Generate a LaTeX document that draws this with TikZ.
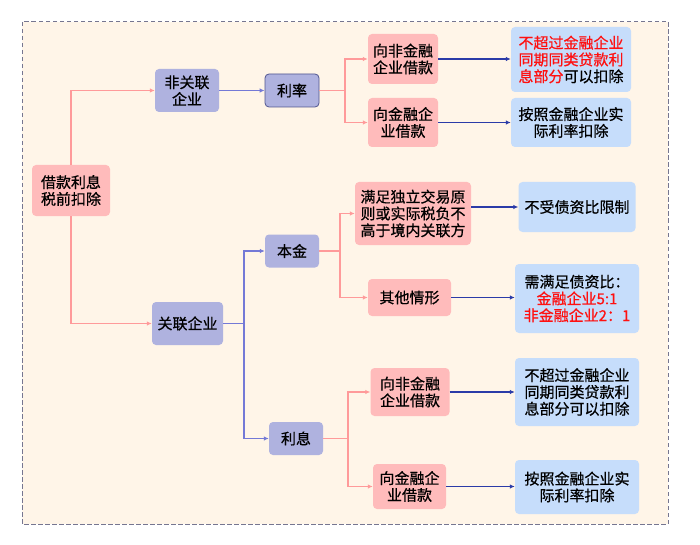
\documentclass[tikz,border=0pt]{standalone}
\usepackage{fontspec}
\setmainfont{Noto Sans CJK SC}[FakeBold=0.6]
\usetikzlibrary{arrows.meta,calc}
\definecolor{cream}{HTML}{FFF5E8}
\definecolor{pinkfill}{HTML}{FFBBBB}
\definecolor{purplefill}{HTML}{AFB2DF}
\definecolor{bluefill}{HTML}{C6DDFB}
\definecolor{pinkln}{HTML}{FF9A9A}
\definecolor{purpleln}{HTML}{7479D6}
\definecolor{navyln}{HTML}{2B3BA8}
\definecolor{framec}{HTML}{767690}
\definecolor{redtxt}{HTML}{FF1010}
\definecolor{darkborder}{HTML}{50558F}
\tikzset{
  box/.style={font=\fontsize{15}{16.8}\selectfont, align=center, inner sep=0pt, rounded corners=4pt},
  pinkbox/.style={box, fill=pinkfill},
  purplebox/.style={box, fill=purplefill},
  bluebox/.style={box, fill=bluefill},
  pinkline/.style={draw=pinkln, line width=1.2pt, -{Latex[length=5pt,width=4.5pt]}},
  pinkplain/.style={draw=pinkln, line width=1.2pt},
  purpleline/.style={draw=purpleln, line width=1.2pt, -{Latex[length=5pt,width=4.5pt]}},
  purpleplain/.style={draw=purpleln, line width=1.2pt},
  navyline/.style={draw=navyln, line width=1.2pt, -{Latex[length=5pt,width=4.5pt]}},
}
\begin{document}
\begin{tikzpicture}[x=1pt,y=-1pt]
\useasboundingbox (0,0) rectangle (700,545);
\fill[white] (0,0) rectangle (700,545);
\draw[framec, fill=cream, line width=1pt, dash pattern=on 4.5pt off 2.5pt] (22,22) rectangle (668,524);

% nodes
\node[pinkbox, minimum width=78pt, minimum height=51pt] (root) at (71,190.5) {借款利息\\税前扣除};
\node[purplebox, minimum width=64pt, minimum height=43pt] (nonrel) at (187,90.5) {非关联\\企业};
\node[purplebox, draw=darkborder, line width=0.8pt, minimum width=54pt, minimum height=33pt] (lilv) at (292,90.5) {利率};
\node[purplebox, minimum width=54pt, minimum height=33pt] (benjin) at (292,251) {本金};
\node[purplebox, minimum width=71pt, minimum height=43pt] (rel) at (187.5,323.5) {关联企业};
\node[purplebox, minimum width=54pt, minimum height=33pt] (lixi) at (296,438.5) {利息};

\node[pinkbox, minimum width=70pt, minimum height=50pt] (a1) at (403,59) {向非金融\\企业借款};
\node[pinkbox, minimum width=70pt, minimum height=49pt] (a2) at (403,122.5) {向金融企\\业借款};
\node[pinkbox, minimum width=116pt, minimum height=63pt] (b1) at (413,213.5) {满足独立交易原\\则或实际税负不\\高于境内关联方};
\node[pinkbox, minimum width=83pt, minimum height=37pt] (b2) at (409.5,297.5) {其他情形};
\node[pinkbox, minimum width=79pt, minimum height=48pt] (c1) at (410,392) {向非金融\\企业借款};
\node[pinkbox, minimum width=73pt, minimum height=45pt] (c2) at (409.5,486.5) {向金融企\\业借款};

\node[bluebox, minimum width=120pt, minimum height=65pt] (r1) at (571,59.5) {\textcolor{redtxt}{不超过金融企业}\\\textcolor{redtxt}{同期同类贷款利}\\\textcolor{redtxt}{息部分}可以扣除};
\node[bluebox, minimum width=120pt, minimum height=49pt] (r2) at (571,122.5) {按照金融企业实\\际利率扣除};
\node[bluebox, minimum width=117pt, minimum height=50pt] (r3) at (577,207) {不受债资比限制};
\node[bluebox, minimum width=124pt, minimum height=69pt] (r4) at (577,298.5) {需满足债资比：\\\textcolor{redtxt}{金融企业5:1}\\\textcolor{redtxt}{非金融企业2：1}};
\node[bluebox, minimum width=124pt, minimum height=68pt] (r5) at (577,392) {不超过金融企业\\同期同类贷款利\\息部分可以扣除};
\node[bluebox, minimum width=124pt, minimum height=54pt] (r6) at (577,487) {按照金融企业实\\际利率扣除};

% junctions
\coordinate (j1) at (345,90.5);
\coordinate (j2) at (244,323.5);
\coordinate (j3) at (340,251);
\coordinate (j4) at (348,438.5);

% connectors
\draw[pinkline] (root.north) |- (nonrel.west);
\draw[pinkline] (root.south) |- (rel.west);
\draw[purpleline] (nonrel.east) -- (lilv.west);

\draw[pinkplain] (lilv.east) -- (j1);
\draw[pinkline] (j1) |- (a1.west);
\draw[pinkline] (j1) |- (a2.west);

\draw[purpleplain] (rel.east) -- (j2);
\draw[purpleline] (j2) |- (benjin.west);
\draw[purpleline] (j2) |- (lixi.west);

\draw[pinkplain] (benjin.east) -- (j3);
\draw[pinkline] (j3) |- (b1.west);
\draw[pinkline] (j3) |- (b2.west);

\draw[pinkplain] (lixi.east) -- (j4);
\draw[pinkline] (j4) |- (c1.west);
\draw[pinkline] (j4) |- (c2.west);

\draw[navyline] (a1.east) -- (a1.east -| r1.west);
\draw[navyline] (a2.east) -- (a2.east -| r2.west);
\draw[navyline] (b1.east |- r3.west) -- (r3.west);
\draw[navyline] (b2.east) -- (b2.east -| r4.west);
\draw[navyline] (c1.east) -- (c1.east -| r5.west);
\draw[navyline] (c2.east) -- (c2.east -| r6.west);
\end{tikzpicture}
\end{document}
